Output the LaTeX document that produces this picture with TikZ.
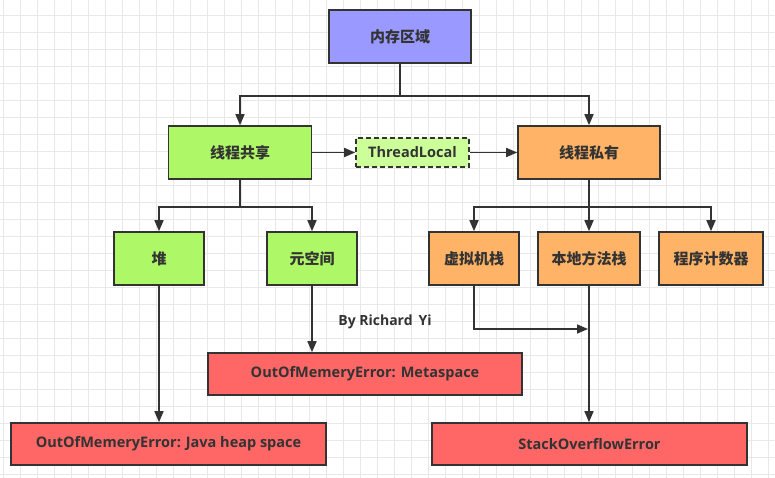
\documentclass[tikz,border=0pt]{standalone}
\usepackage{fontspec}
\setmainfont{Open Sans}
\newfontfamily\cjk{Noto Sans CJK SC}
\usetikzlibrary{arrows.meta}
\definecolor{txt}{HTML}{333333}
\definecolor{bord}{HTML}{333333}
\definecolor{cblue}{HTML}{9999FF}
\definecolor{cgreen}{HTML}{AEF766}
\definecolor{clight}{HTML}{CCFF99}
\definecolor{corange}{HTML}{FFB366}
\definecolor{cred}{HTML}{FF6666}
\definecolor{gridc}{HTML}{E8E8E8}
\tikzset{
  box/.style={draw=bord, line width=1.6pt, text=txt, inner sep=0pt, align=center,
    font=\cjk\bfseries\fontsize{15}{17}\selectfont},
  bluebox/.style={box, fill=cblue},
  greenbox/.style={box, fill=cgreen},
  orangebox/.style={box, fill=corange},
  tlbox/.style={box, fill=clight, dashed, dash pattern=on 5pt off 3pt,
    font=\bfseries\fontsize{14.5}{17}\selectfont},
  errbox/.style={box, fill=cred, font=\bfseries\fontsize{14.5}{17}\selectfont},
  arr/.style={draw=bord, line width=1.6pt, -{Triangle[length=11pt,width=9pt]}},
  gridline/.style={draw=gridc, line width=0.7pt},
}
\begin{document}
\begin{tikzpicture}[x=1pt,y=-1pt]
\useasboundingbox (0,0) rectangle (775,478);
\fill[white] (0,0) rectangle (775,478);
\foreach \x in {3,20,...,775} \draw[gridline] (\x,0) -- (\x,478);
\foreach \y in {15,32,...,478} \draw[gridline] (0,\y) -- (775,\y);

\node[bluebox, minimum width=142pt, minimum height=53pt] (mem) at (400,36.5) {内存区域};
\node[greenbox, minimum width=143pt, minimum height=53pt] (share) at (240,152.5) {线程共享};
\node[orangebox, minimum width=142pt, minimum height=53pt] (priv) at (589,152.5) {线程私有};
\node[tlbox, minimum width=113pt, minimum height=29pt] (tl) at (412.5,152.5) {ThreadLocal};

\node[greenbox, minimum width=90pt, minimum height=53pt] (heap) at (159,258.5) {堆};
\node[greenbox, minimum width=90pt, minimum height=53pt] (meta) at (312,258.5) {元空间};
\node[orangebox, minimum width=90pt, minimum height=53pt] (vm) at (474,258.5) {虚拟机栈};
\node[orangebox, minimum width=102pt, minimum height=53pt] (native) at (589,258.5) {本地方法栈};
\node[orangebox, minimum width=104pt, minimum height=53pt] (pc) at (711,258.5) {程序计数器};

\node[errbox, minimum width=314pt, minimum height=42pt] (errmeta) at (365,374) {OutOfMemeryError: Metaspace};
\node[errbox, minimum width=315pt, minimum height=42pt] (errheap) at (168.5,444) {OutOfMemeryError: Java heap space};
\node[errbox, minimum width=315pt, minimum height=42pt] (errso) at (589.5,444) {StackOverflowError};

\node[text=txt, font=\bfseries\fontsize{14}{16}\selectfont] (by) at (385,322) {By Richard\,\ Yi};

% top level
\draw[arr] (mem.south) -- ++(0,32) -| (share.north);
\draw[arr] (mem.south) -- ++(0,32) -| (priv.north);
\draw[arr] (share.east) -- (tl.west);
\draw[arr] (tl.east) -- (priv.west);

% shared branch
\draw[arr] (share.south) -- ++(0,27) -| (heap.north);
\draw[arr] (share.south) -- ++(0,27) -| (meta.north);

% private branch
\draw[arr] (priv.south) -- ++(0,27) -| (vm.north);
\draw[arr] (priv.south) -- (native.north);
\draw[arr] (priv.south) -- ++(0,27) -| (pc.north);

% errors
\draw[arr] (heap.south) -- (heap.south |- errheap.north);
\draw[arr] (meta.south) -- (meta.south |- errmeta.north);
\draw[arr] (native.south) -- (native.south |- errso.north);
\coordinate (vmj) at (588,329);
\draw[arr] (vm.south) |- (vmj);
\end{tikzpicture}
\end{document}
